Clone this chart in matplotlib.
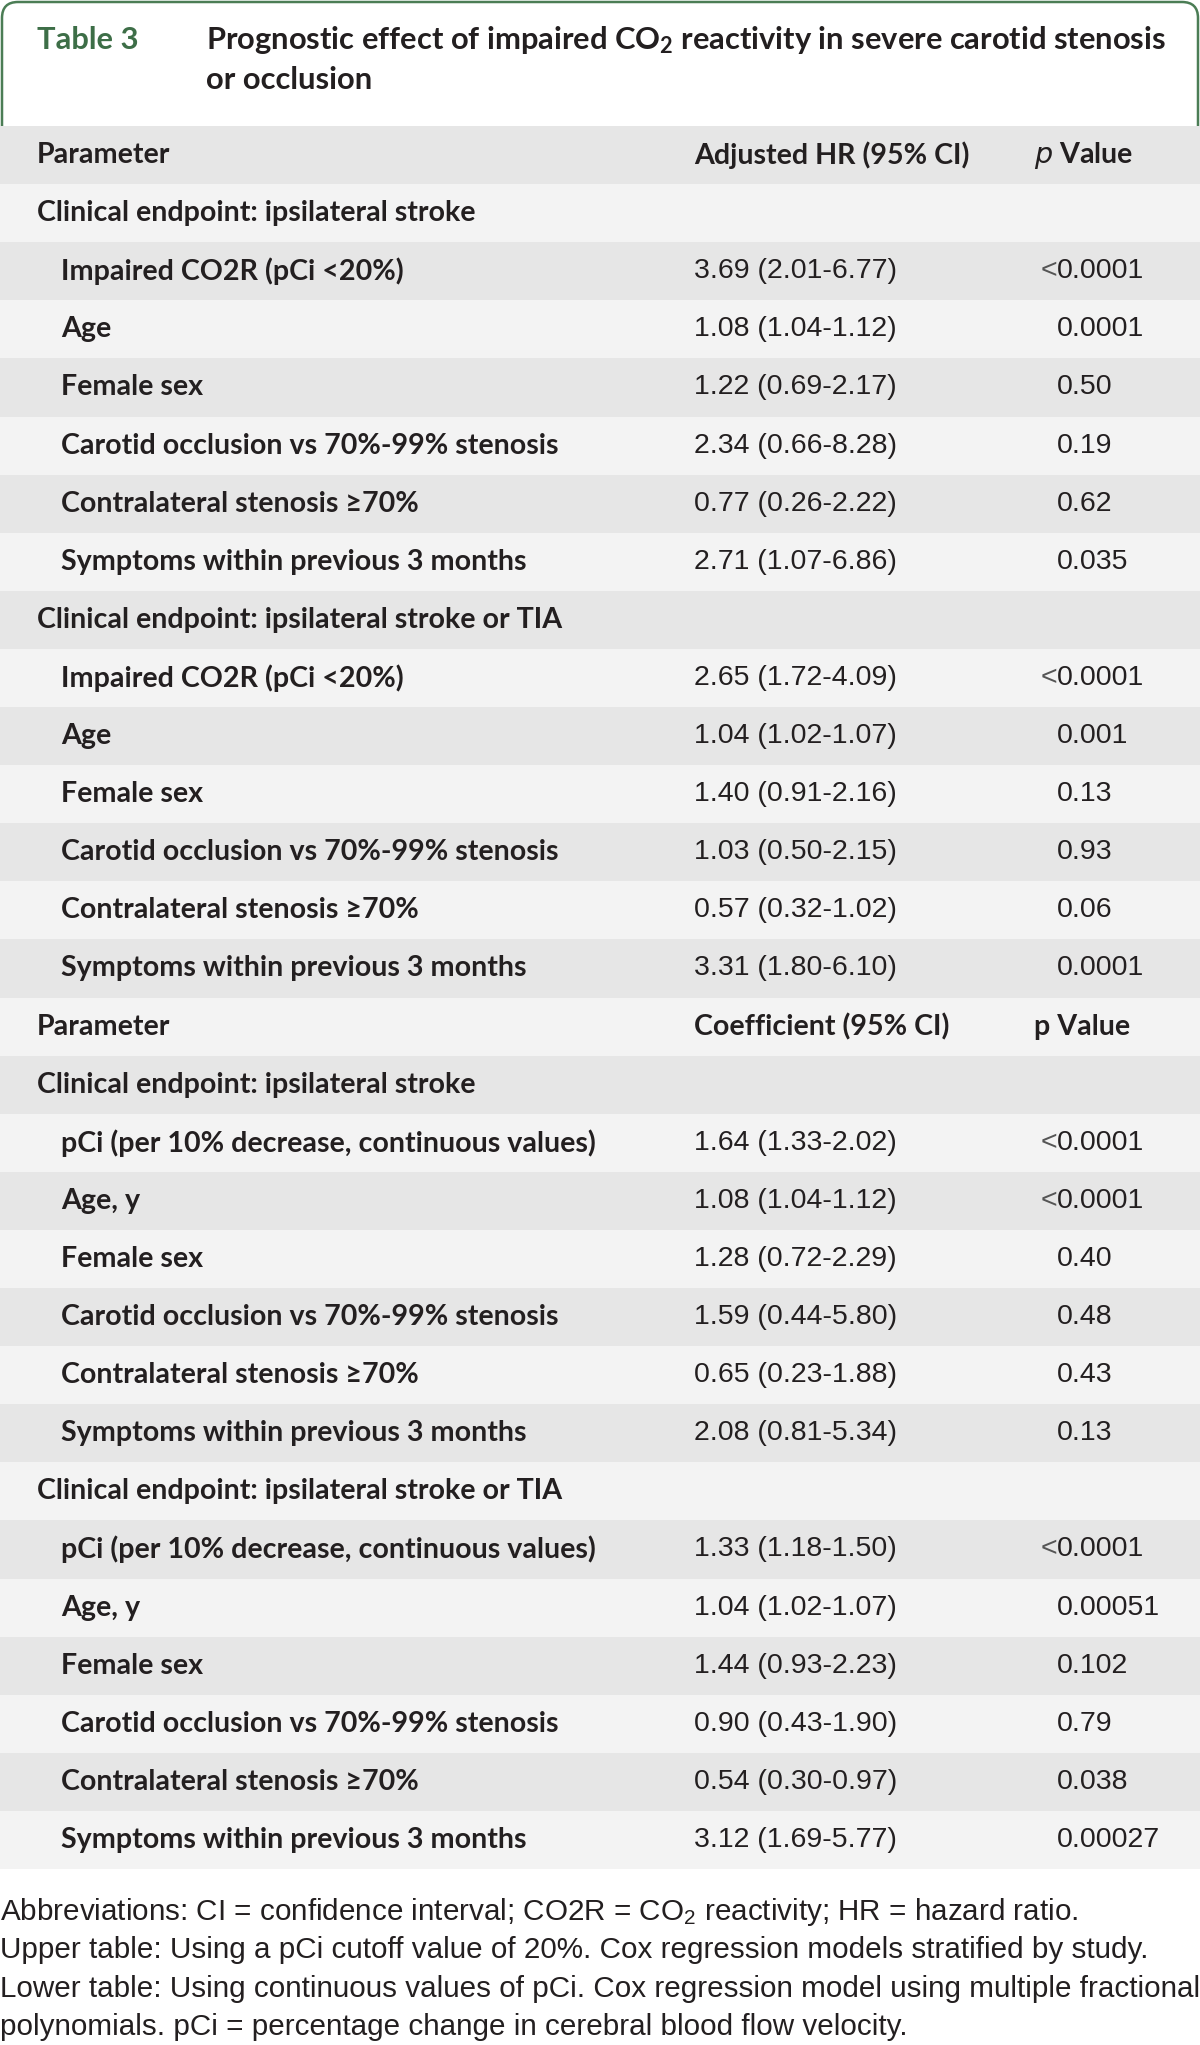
import numpy as np
import matplotlib
matplotlib.use("Agg")
import matplotlib.pyplot as plt
from matplotlib.path import Path
from matplotlib.patches import PathPatch

plt.rcParams['mathtext.default'] = 'regular'

# ---- table content ----
title_tag = "Table 3"
title_lines = ["Prognostic effect of impaired CO$_\\mathregular{2}$ reactivity in severe carotid stenosis",
               "or occlusion"]

sections = ["Clinical endpoint: ipsilateral stroke",
            "Clinical endpoint: ipsilateral stroke or TIA"]

params_upper = ["Impaired CO2R (pCi <20%)", "Age", "Female sex",
                "Carotid occlusion vs 70%-99% stenosis", "Contralateral stenosis ≥70%",
                "Symptoms within previous 3 months"]
hr_stroke = ["3.69 (2.01-6.77)", "1.08 (1.04-1.12)", "1.22 (0.69-2.17)",
             "2.34 (0.66-8.28)", "0.77 (0.26-2.22)", "2.71 (1.07-6.86)"]
p_stroke = ["<0.0001", "0.0001", "0.50", "0.19", "0.62", "0.035"]
hr_tia = ["2.65 (1.72-4.09)", "1.04 (1.02-1.07)", "1.40 (0.91-2.16)",
          "1.03 (0.50-2.15)", "0.57 (0.32-1.02)", "3.31 (1.80-6.10)"]
p_tia = ["<0.0001", "0.001", "0.13", "0.93", "0.06", "0.0001"]

params_lower = ["pCi (per 10% decrease, continuous values)", "Age, y", "Female sex",
                "Carotid occlusion vs 70%-99% stenosis", "Contralateral stenosis ≥70%",
                "Symptoms within previous 3 months"]
coef_stroke = ["1.64 (1.33-2.02)", "1.08 (1.04-1.12)", "1.28 (0.72-2.29)",
               "1.59 (0.44-5.80)", "0.65 (0.23-1.88)", "2.08 (0.81-5.34)"]
pc_stroke = ["<0.0001", "<0.0001", "0.40", "0.48", "0.43", "0.13"]
coef_tia = ["1.33 (1.18-1.50)", "1.04 (1.02-1.07)", "1.44 (0.93-2.23)",
            "0.90 (0.43-1.90)", "0.54 (0.30-0.97)", "3.12 (1.69-5.77)"]
pc_tia = ["<0.0001", "0.00051", "0.102", "0.79", "0.038", "0.00027"]

footnotes = ["Abbreviations: CI = confidence interval; CO2R = CO$_\\mathregular{2}$ reactivity; HR = hazard ratio.",
             "Upper table: Using a pCi cutoff value of 20%. Cox regression models stratified by study.",
             "Lower table: Using continuous values of pCi. Cox regression model using multiple fractional",
             "polynomials. pCi = percentage change in cerebral blood flow velocity."]

# ---- style ----
W, H = 1200, 2045
TOP, ROW_H = 126, 58.1
X_LABEL, X_INDENT, X_VAL, X_P = 37, 61, 694, 1057
DARK, LIGHT = "#e6e6e6", "#f3f3f3"
INK = "#231f20"
GREEN = "#4b7d55"
BOLD = ["Lato", "DejaVu Sans"]
REG = ["Liberation Sans", "DejaVu Sans"]
FS_TITLE, FS_LABEL, FS_VAL, FS_NOTE = 22.2, 20.6, 20.5, 21.3


def build_rows():
    rows = [("Parameter", "Adjusted HR (95% CI)", "$\\mathit{p}$ Value", "head")]
    for sec, vals, ps in zip(sections, [hr_stroke, hr_tia], [p_stroke, p_tia]):
        rows.append((sec, "", "", "sec"))
        rows += [(a, b, c, "data") for a, b, c in zip(params_upper, vals, ps)]
    rows.append(("Parameter", "Coefficient (95% CI)", "p Value", "head"))
    for sec, vals, ps in zip(sections, [coef_stroke, coef_tia], [pc_stroke, pc_tia]):
        rows.append((sec, "", "", "sec"))
        rows += [(a, b, c, "data") for a, b, c in zip(params_lower, vals, ps)]
    return rows


def draw_table():
    fig = plt.figure(figsize=(W / 100, H / 100), dpi=100)
    ax = fig.add_axes([0, 0, 1, 1])
    ax.set_xlim(0, W)
    ax.set_ylim(H, 0)
    ax.axis("off")

    # rounded green frame around the caption
    r = 16
    verts = [(2, TOP), (2, r + 2), (2, 2), (r + 2, 2), (W - r - 2, 2), (W - 2, 2),
             (W - 2, r + 2), (W - 2, TOP)]
    codes = [Path.MOVETO, Path.LINETO, Path.CURVE3, Path.CURVE3, Path.LINETO,
             Path.CURVE3, Path.CURVE3, Path.LINETO]
    ax.add_patch(PathPatch(Path(verts, codes), fill=False, edgecolor=GREEN, lw=1.8))

    ax.text(X_LABEL, 40, title_tag, color="#3d6e47", family=BOLD, weight="bold",
            fontsize=FS_TITLE, va="center")
    for i, line in enumerate(title_lines):
        ax.text(206, 40 + 40 * i, line, color=INK, family=BOLD, weight="bold",
                fontsize=FS_TITLE, va="center")

    rows = build_rows()
    y = TOP + ROW_H * np.arange(len(rows))
    colors = [DARK if i % 2 == 0 else LIGHT for i in range(len(rows))]
    ax.barh(y, W, height=ROW_H, left=0, align="edge", color=colors, linewidth=0)

    for yi, (lab, val, p, kind) in zip(y + ROW_H / 2, rows):
        if kind == "data":
            ax.text(X_INDENT, yi, lab, color=INK, family=BOLD, weight="bold",
                    fontsize=FS_LABEL, va="center")
            ax.text(X_VAL, yi, val, color=INK, family=REG, fontsize=FS_VAL, va="center")
            if p.startswith("<"):
                ax.text(X_P, yi, "<", color="#555555", family=REG, fontsize=FS_VAL,
                        va="center", ha="right")
                p = p[1:]
            ax.text(X_P, yi, p, color=INK, family=REG, fontsize=FS_VAL, va="center")
        else:
            ax.text(X_LABEL, yi, lab, color=INK, family=BOLD, weight="bold",
                    fontsize=FS_LABEL, va="center")
            if kind == "head":
                ax.text(X_VAL, yi, val, color=INK, family=BOLD, weight="bold",
                        fontsize=FS_LABEL, va="center")
                ax.text(1034, yi, p, color=INK, family=BOLD, weight="bold",
                        fontsize=FS_LABEL, va="center")

    for i, line in enumerate(footnotes):
        ax.text(0, 1912 + 38.3 * i, line, color=INK, family=REG, fontsize=FS_NOTE,
                va="center")

    fig.savefig("out.png", dpi=100)


if __name__ == '__main__':
    draw_table()
